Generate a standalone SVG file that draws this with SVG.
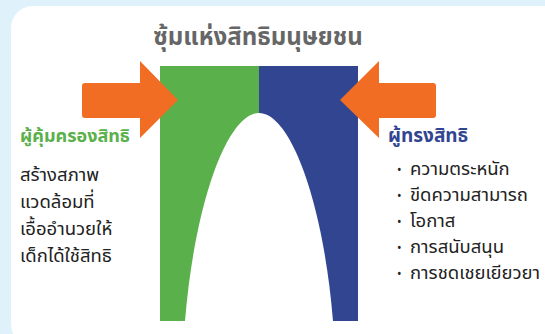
<svg xmlns="http://www.w3.org/2000/svg" width="545" height="334" viewBox="0 0 545 334">
<style>
.t{font-family:"Noto Sans Thai","Noto Sans","DejaVu Sans",sans-serif;}
.title{font-size:24px;font-weight:bold;fill:#666666;}
.hl{font-size:18px;font-weight:bold;fill:#5ab04a;}
.hr{font-size:19px;font-weight:bold;fill:#324591;}
.body{font-size:18.5px;fill:#222222;}
.item{font-size:18.5px;fill:#222222;}
.bul{font-size:12px;fill:#222222;}
.arrow{fill:#f26d24;}
</style>
<rect x="0" y="0" width="545" height="334" fill="#dff2fc"/>
<rect x="11" y="6" width="560" height="340" rx="22" fill="#ffffff"/>
<g id="title"><text class="t title" x="258" y="45" text-anchor="middle">ซุ้มแห่งสิทธิมนุษยชน</text></g>
<g id="arch">
<rect x="160" y="66" width="99.5" height="255" fill="#5ab04a"/>
<rect x="259" y="66" width="99" height="255" fill="#324591"/>
<path d="M185,321 C195,200 228,113 259,113 C290,113 323,200 333,321 Z" fill="#ffffff"/>
</g>
<g id="connectors">
<path class="arrow" d="M85,83 L140,83 L140,61 L178,100 L140,138 L140,118 L85,118 Q82,118 82,115 L82,86 Q82,83 85,83 Z"/>
<path class="arrow" d="M433,83 L379,83 L379,61 L340,100 L379,138 L379,118 L433,118 Q436,118 436,115 L436,86 Q436,83 433,83 Z"/>
</g>
<g id="duty-bearer">
<text class="t hl" x="20" y="142">ผู้คุ้มครองสิทธิ</text>
<text class="t body" x="20" y="181">สร้างสภาพ</text>
<text class="t body" x="20" y="208">แวดล้อมที่</text>
<text class="t body" x="20" y="235">เอื้ออำนวยให้</text>
<text class="t body" x="20" y="262">เด็กได้ใช้สิทธิ</text>
</g>
<g id="rights-holder">
<text class="t hr" x="388" y="142">ผู้ทรงสิทธิ</text>
<g class="t bul">
<text x="397" y="174">•</text><text x="397" y="200">•</text><text x="397" y="226">•</text><text x="397" y="252">•</text><text x="397" y="278">•</text>
</g>
<g class="t item">
<text x="410" y="175">ความตระหนัก</text>
<text x="410" y="201">ขีดความสามารถ</text>
<text x="410" y="227">โอกาส</text>
<text x="410" y="253">การสนับสนุน</text>
<text x="410" y="279">การชดเชยเยียวยา</text>
</g>
</g>
</svg>
